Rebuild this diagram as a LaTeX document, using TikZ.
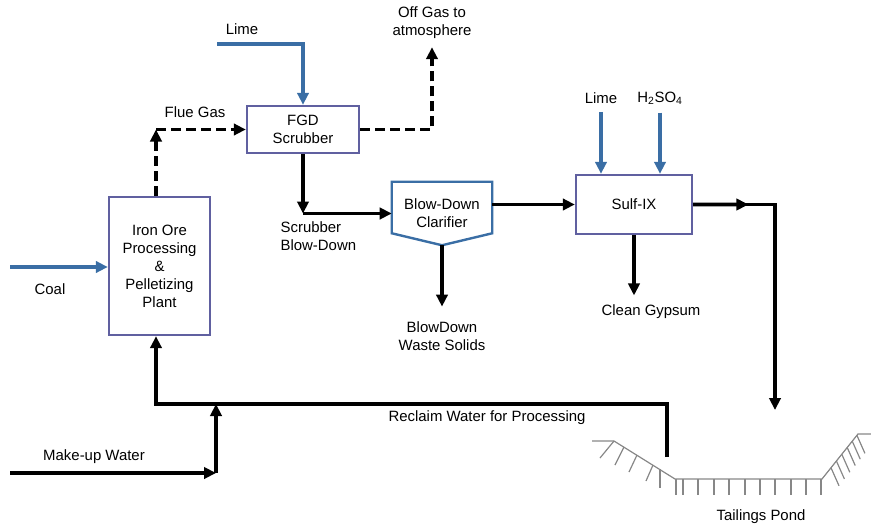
\documentclass[tikz,border=0pt]{standalone}
\usepackage{fontspec}
\setmainfont{Liberation Sans}
\usetikzlibrary{arrows.meta,calc}
\definecolor{boxline}{RGB}{96,96,160}
\definecolor{feedblue}{RGB}{58,110,165}
\definecolor{groundgray}{RGB}{135,135,135}

\begin{document}
\begin{tikzpicture}[x=0.75pt,y=-0.75pt,
  font=\fontsize{11.2}{13.5}\selectfont,
  unit/.style={draw=boxline,line width=1.8pt,fill=white,align=center,inner sep=2pt},
  lbl/.style={align=center,inner sep=1pt},
  flow/.style={line width=2.7pt,->},
  gas/.style={flow,dash pattern=on 7.5pt off 3.75pt},
  feed/.style={flow,draw=feedblue},
  bank/.style={draw=groundgray,line width=0.9pt},
  >={Triangle[length=9pt,width=8.5pt]}]
\useasboundingbox (0,0) rectangle (871,525);
\node[unit,minimum width=84pt,minimum height=35.25pt] (fgd) at (303,129.5) {FGD\\Scrubber};
\node[unit,minimum width=75.75pt,minimum height=103.5pt] (iron) at (159.5,266) {Iron Ore\\Processing\\\&\\Pelletizing\\Plant};
\node[unit,minimum width=87pt,minimum height=44.25pt] (sulf) at (634,204.5) {Sulf-IX};
\node[lbl,minimum width=75pt,minimum height=47.25pt] (clar) at (442,213.5) {Blow-Down\\Clarifier};
\draw[draw=feedblue,line width=1.8pt] (clar.north west) -- (clar.north east) -- ([yshift=9pt]clar.south east)
  -- (clar.south) -- ([yshift=9pt]clar.south west) -- cycle;
\node[lbl] (lime1) at (242,29) {Lime};
\node[lbl] (offgas) at (432,23) {Off Gas to\\atmosphere};
\node[lbl] (fluelbl) at (195,112) {Flue Gas};
\node[lbl] (coallbl) at (50,289) {Coal};
\node[lbl,align=left,anchor=west] (sbd) at (279,236) {Scrubber\\Blow-Down};
\node[lbl] (solids) at (442,336) {BlowDown\\Waste Solids};
\node[lbl] (lime2) at (601,98) {Lime};
\node[lbl] (acid) at (660,98) {H\textsubscript{2}SO\textsubscript{4}};
\node[lbl] (gypsum) at (651,312) {Clean Gypsum};
\node[lbl] (mkuplbl) at (94,457) {Make-up Water};
\node[lbl] (recllbl) at (487,418) {Reclaim Water for Processing};
\node[lbl] (pondlbl) at (761,517) {Tailings Pond};
\coordinate (limein) at (217,44);
\coordinate (coalin) at (10,267);
\coordinate (mkupin) at (10,473);
\coordinate (rc) at (156,404);
\coordinate (mkj) at (216,404);
\coordinate (pondin) at (775,410);
\coordinate (recl) at (667,457);
\draw[feed] (limein) -| (fgd.north);
\draw[gas,shorten >=5pt] (fgd.east) -| (offgas.south);
\draw[gas] (rc |- iron.north) -- (rc |- fgd.west);
\draw[gas] (rc |- fgd.west) -- (fgd.west);
\draw[feed] (coalin) -- (coalin -| iron.west);
\draw[flow] (fgd.south) -- (fgd.south |- clar.west);
\draw[flow] (fgd.south |- clar.west) -- (clar.west);
\draw[flow,shorten >=10pt] (clar.south) -- (solids.north);
\draw[flow] (sulf.west -| clar.east) -- (sulf.west);
\draw[feed,shorten <=5pt] (lime2.south) -- (lime2.south |- sulf.north);
\draw[feed,shorten <=5pt] (acid.south) -- (acid.south |- sulf.north);
\draw[flow,shorten >=6pt] (sulf.south) -- (sulf.south |- gypsum.north);
\draw[flow] (sulf.east) -| (pondin);
\draw[flow] (sulf.east) -- ($(sulf.east)!0.675!(sulf.east -| pondin)$);
\draw[flow] (recl) |- (rc) -- (rc |- iron.south);
\draw[flow] (mkupin) -- (mkupin -| mkj);
\draw[flow] (mkupin -| mkj) -- (mkj);
\draw[bank] (592,441) -- (614,441) -- (675,479) -- (822,479) -- (858,434) -- (871,434);
\foreach \a/\b/\c/\d in {614/441/600/458,624/447/615/465,637/455/629/472,653/465/646/481,660/469/660/488}
  \draw[bank] (\a,\b) -- (\c,\d);
\foreach \x in {676,683,698,714,729,745,760,775,791,806,821}
  \draw[bank] (\x,479) -- (\x,495);
\foreach \f in {0.25,0.4,0.55,0.7,0.84,0.97}
  \draw[bank] ($(822,479)!\f!(858,434)$) -- ++(8,18);
\end{tikzpicture}
\end{document}
